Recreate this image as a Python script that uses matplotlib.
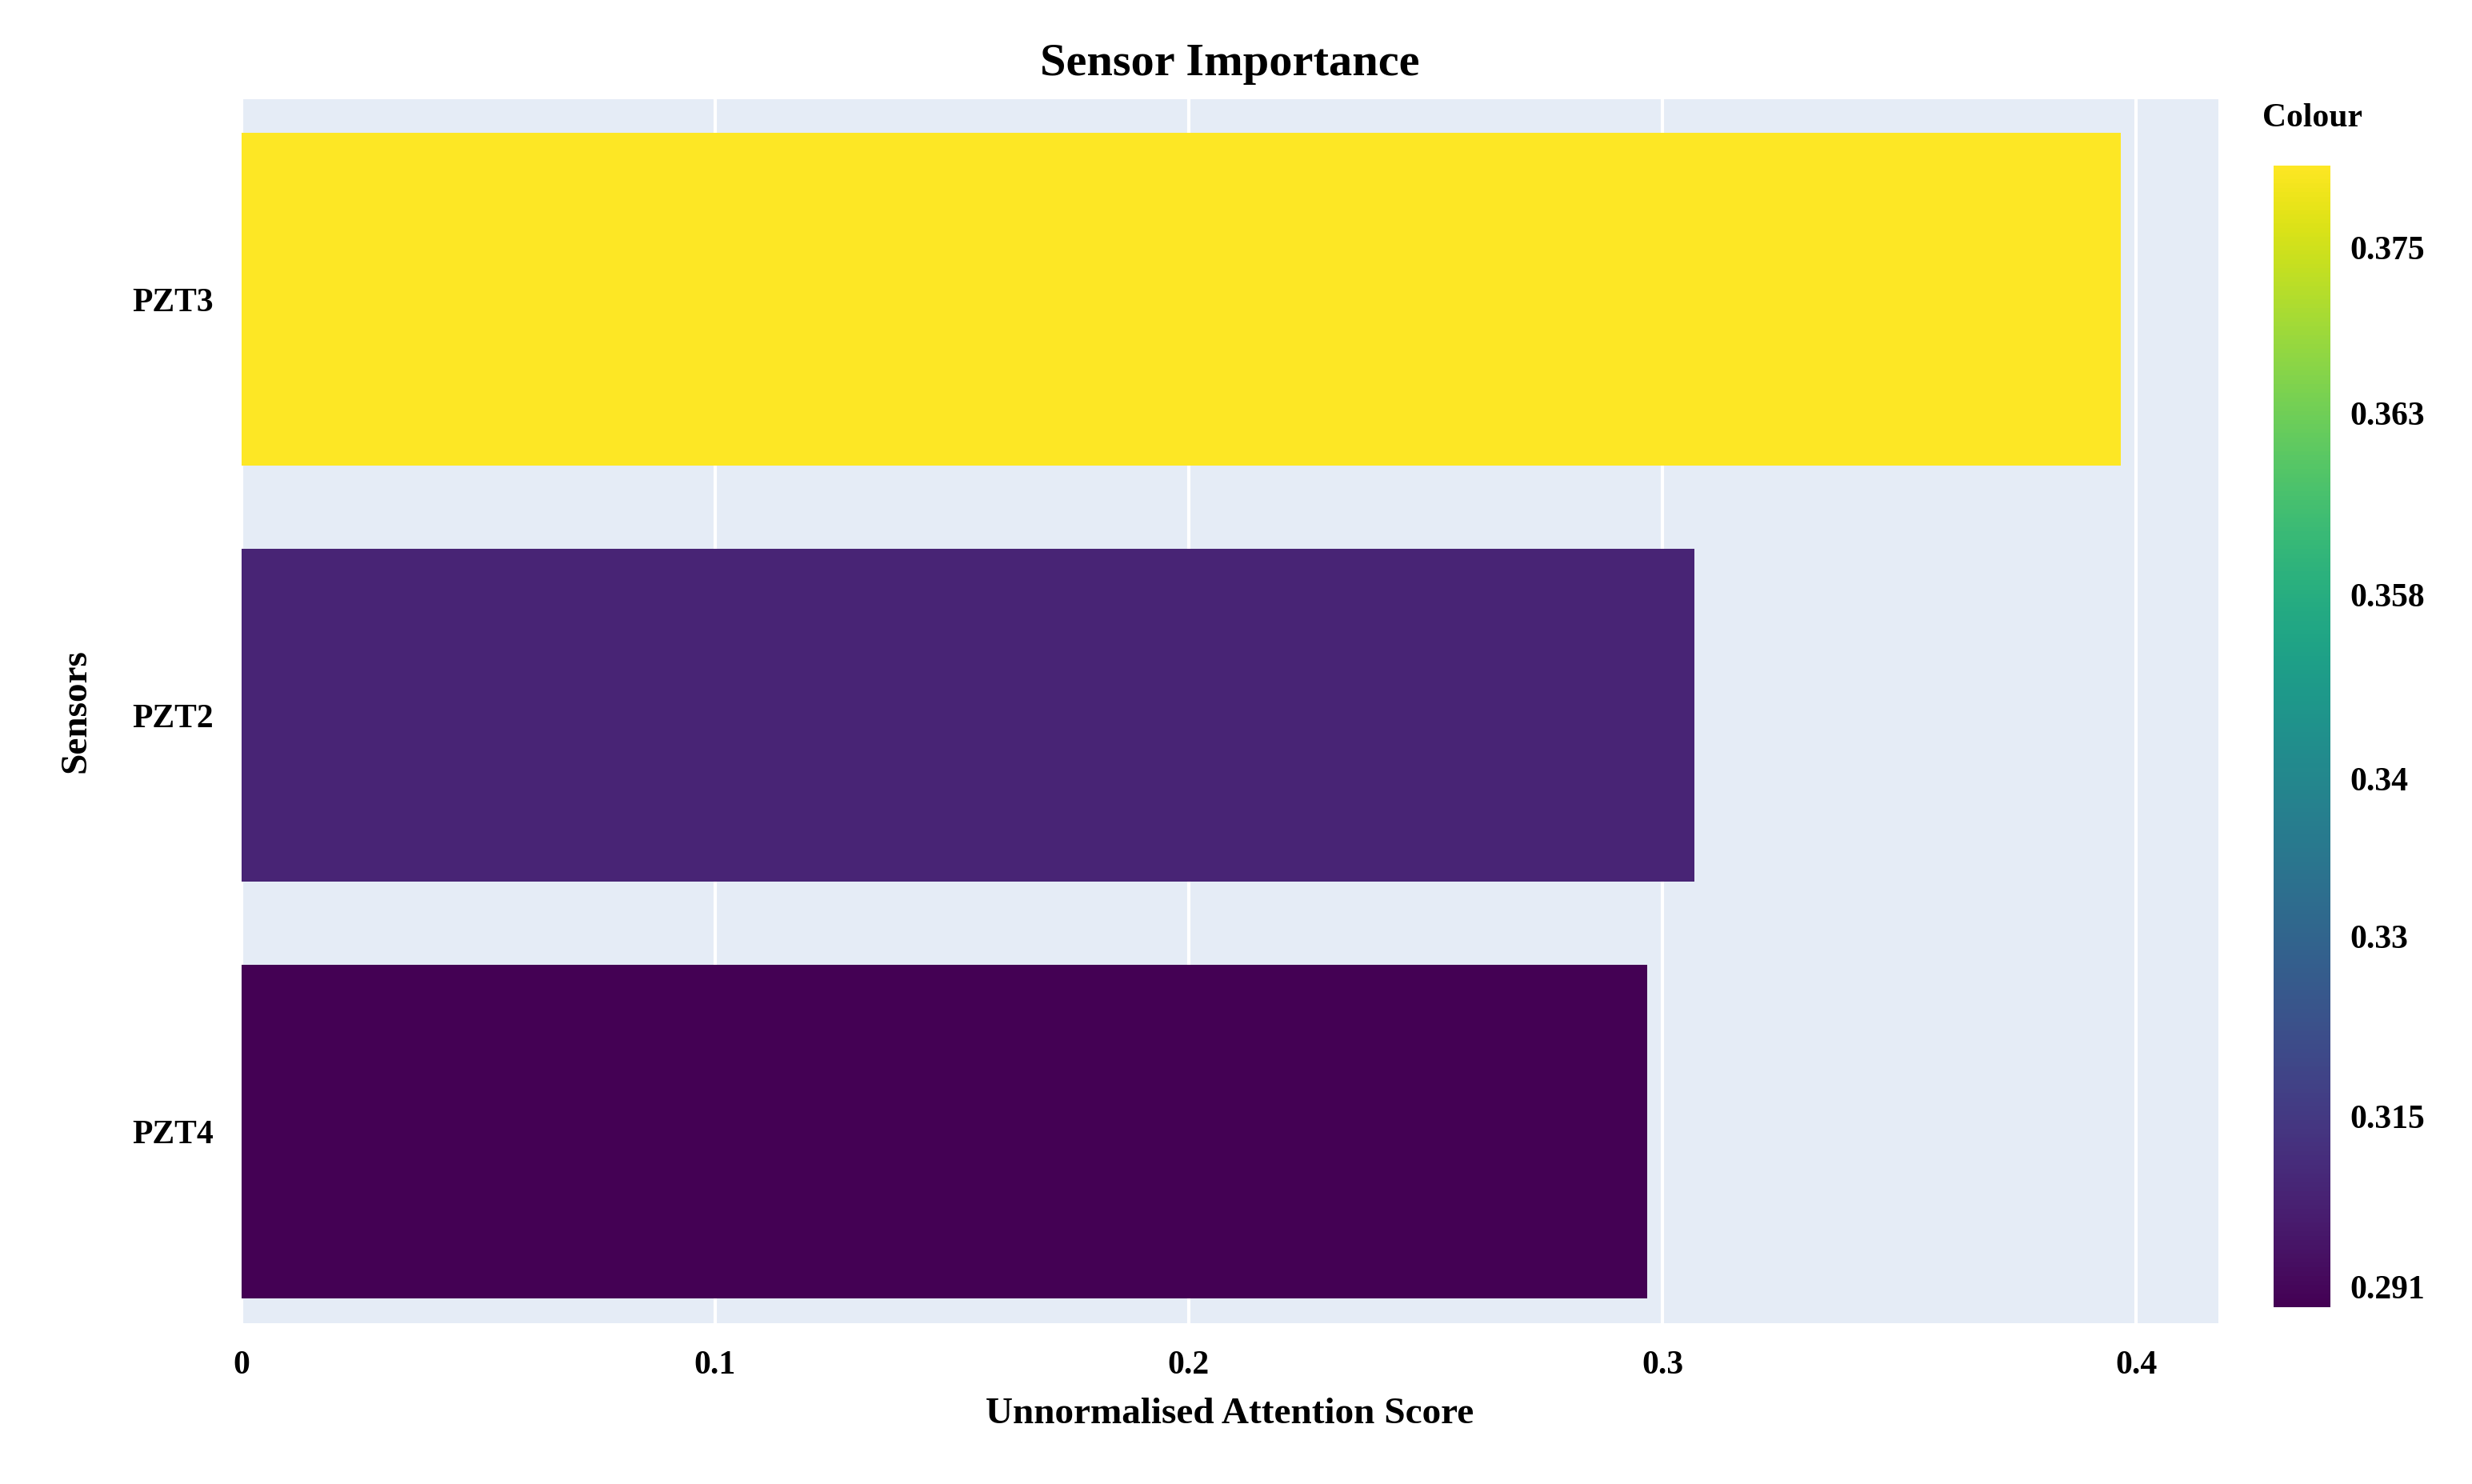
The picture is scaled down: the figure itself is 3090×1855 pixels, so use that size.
import matplotlib
matplotlib.use("Agg")
import matplotlib.pyplot as plt
import numpy as np
from matplotlib import cm, colors

sensors = ["PZT4", "PZT2", "PZT3"]
scores = [0.2968, 0.3068, 0.3967]
cbar_labels = ["0.291", "0.315", "0.33", "0.34", "0.358", "0.363", "0.375"]
cbar_pos = [0.018, 0.167, 0.325, 0.463, 0.624, 0.783, 0.928]

plt.rcParams['font.family'] = ['Liberation Serif', 'DejaVu Serif']
plt.rcParams['font.weight'] = 'bold'
W, H = 1568, 940
fig = plt.figure(figsize=(30.9, 18.55), dpi=100)
ax = fig.add_axes([153/W, 1-838/H, (1407-153)/W, (838-63)/H])
ax.set_facecolor('#e5ecf6')
norm = colors.Normalize(min(scores), max(scores))
cmap = cm.get_cmap('viridis') if hasattr(cm, 'get_cmap') else matplotlib.colormaps['viridis']
ax.barh(range(len(sensors)), scores, height=0.8, color=[cmap(norm(v)) for v in scores], zorder=3)
ax.set_yticks(range(len(sensors)))
ax.set_yticklabels(sensors)
ax.set_xlim(0, 0.4173)
ax.set_ylim(-0.46, 2.48)
ax.set_xticks([0, 0.1, 0.2, 0.3, 0.4])
ax.set_xticklabels(["0", "0.1", "0.2", "0.3", "0.4"])
ax.grid(axis='x', color='white', linewidth=3, zorder=1)
for s in ax.spines.values():
    s.set_visible(False)
ax.tick_params(length=0, labelsize=30, pad=25)
ax.set_xlabel("Unnormalised Attention Score", fontsize=34, fontweight='bold', labelpad=15)
ax.set_ylabel("Sensors", fontsize=34, fontweight='bold', labelpad=35)
ax.set_title("Sensor Importance", fontsize=42, fontweight='bold', pad=22)

cax = fig.add_axes([1442/W, 1-828/H, 36/W, (828-105)/H])
grad = np.linspace(0, 1, 256).reshape(-1, 1)
cax.imshow(grad, aspect='auto', cmap='viridis', origin='lower', extent=[0, 1, 0, 1])
cax.set_xticks([])
cax.yaxis.tick_right()
cax.set_yticks(cbar_pos)
cax.set_yticklabels(cbar_labels)
cax.tick_params(length=0, labelsize=30, pad=18)
for s in cax.spines.values():
    s.set_visible(False)
fig.text(1467/W, 1-75/H, "Colour", fontsize=30, fontweight='bold', ha='center', va='center')
fig.savefig("out.png", dpi=100)
